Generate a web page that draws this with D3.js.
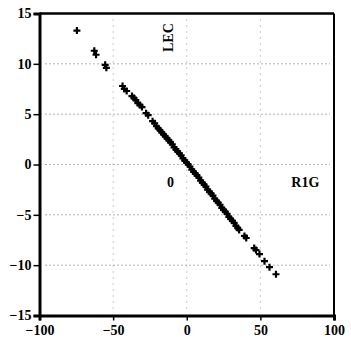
<!DOCTYPE html>
<html>
<head>
<meta charset="utf-8">
<script src="https://cdn.jsdelivr.net/npm/d3@7"></script>
<style>
  body { margin: 0; background: #fff; }
  text { font-family: "Liberation Serif", "DejaVu Serif", serif; font-weight: bold; }
</style>
</head>
<body>
<div id="chart"></div>
<script>
// values
const xTicks = [-100, -50, 0, 50, 100];
const yTicks = [-15, -10, -5, 0, 5, 10, 15];
const xGrid = [-50, 0, 50];
const yGrid = [-10, -5, 0, 5, 10];

const ptX = [-74.6, -62.8, -61.6, -55.4, -54.6, -43.6, -42.4, -40.8, -37.2, -35.8,
  -34.6, -33.2, -31.8, -30.4, -27.6, -26.2, -23.2, -21.8, -20.6, -19.4,
  -18.2, -17.0, -15.8, -14.6, -13.4, -12.2, -11.0, -9.8, -8.6, -7.4,
  -6.2, -5.0, -3.8, -2.6, -1.4, -0.2, 1.0, 2.2, 3.4, 4.6,
  5.8, 7.0, 8.2, 9.4, 10.6, 11.8, 13.0, 14.2, 15.4, 16.6,
  17.8, 19.0, 20.2, 21.4, 22.6, 23.8, 25.0, 26.2, 27.4, 28.6,
  29.8, 31.0, 32.2, 33.4, 34.6, 35.6, 39.2, 40.4, 45.8, 47.0,
  49.4, 52.8, 56.2, 60.6];
const ptY = [13.3, 11.3, 10.9, 9.9, 9.6, 7.8, 7.5, 7.3, 6.8, 6.6,
  6.4, 6.1, 5.9, 5.7, 5.1, 4.9, 4.3, 4.1, 3.8, 3.6,
  3.4, 3.2, 3.0, 2.8, 2.6, 2.4, 2.2, 2.0, 1.7, 1.5,
  1.3, 1.1, 0.9, 0.6, 0.4, 0.2, 0.0, -0.2, -0.5, -0.7,
  -0.9, -1.1, -1.3, -1.6, -1.8, -2.0, -2.2, -2.5, -2.7, -2.9,
  -3.1, -3.4, -3.6, -3.8, -4.0, -4.3, -4.5, -4.7, -4.9, -5.2,
  -5.4, -5.6, -5.8, -6.1, -6.3, -6.5, -7.1, -7.3, -8.3, -8.5,
  -8.9, -9.6, -10.2, -10.9];

const width = 351, height = 346;
const m = {left: 39.5, right: 334, top: 13.5, bottom: 315.5};

const svg = d3.select("#chart").append("svg")
    .attr("width", width)
    .attr("height", height);

const x = d3.scaleLinear().domain([-100, 100]).range([m.left, m.right]);
const y = d3.scaleLinear().domain([-15, 15]).range([m.bottom, m.top]);

// dotted grid
svg.append("g").selectAll("line")
    .data(yGrid).join("line")
    .attr("x1", m.left + 6).attr("x2", m.right - 4)
    .attr("y1", d => y(d)).attr("y2", d => y(d))
    .attr("stroke", "#666").attr("stroke-width", 1)
    .attr("stroke-dasharray", "1,3");

svg.append("g").selectAll("line")
    .data(xGrid).join("line")
    .attr("x1", d => x(d)).attr("x2", d => x(d))
    .attr("y1", m.top + 6).attr("y2", m.bottom - 6)
    .attr("stroke", "#999").attr("stroke-width", 1)
    .attr("stroke-dasharray", "1,5");

// frame top / right
svg.append("line")
    .attr("x1", m.left).attr("x2", m.right).attr("y1", m.top).attr("y2", m.top)
    .attr("stroke", "#000").attr("stroke-width", 2.5);
svg.append("line")
    .attr("x1", m.right).attr("x2", m.right).attr("y1", m.top).attr("y2", m.bottom)
    .attr("stroke", "#000").attr("stroke-width", 2);

// axes
const xAxis = svg.append("g")
    .attr("transform", "translate(0," + m.bottom + ")")
    .call(d3.axisBottom(x).tickValues(xTicks).tickSize(5).tickPadding(3));
const yAxis = svg.append("g")
    .attr("transform", "translate(" + m.left + ",0)")
    .call(d3.axisLeft(y).tickValues(yTicks).tickSize(6).tickPadding(2));

[xAxis, yAxis].forEach(g => {
  g.select(".domain").attr("stroke", "#000").attr("stroke-width", 3);
  g.selectAll(".tick line").attr("stroke", "#000").attr("stroke-width", 1.5);
  g.selectAll(".tick text")
      .style("font-family", "Liberation Serif")
      .style("font-weight", "bold")
      .style("font-size", "14px")
      .attr("fill", "#000");
});
xAxis.selectAll(".tick text").attr("dy", "0.85em");

// points
svg.append("g").selectAll("path")
    .data(ptX.map((v, i) => [v, ptY[i]]))
    .join("path")
    .attr("transform", d => "translate(" + x(d[0]) + "," + y(d[1]) + ")")
    .attr("d", "M-3.5,0H3.5M0,-3.5V3.5")
    .attr("stroke", "#000")
    .attr("stroke-width", 2.2)
    .attr("fill", "none");

// labels
svg.append("text")
    .attr("transform", "translate(" + x(-9.5) + "," + y(12.6) + ") rotate(-90)")
    .attr("text-anchor", "middle")
    .style("font-size", "14px")
    .text("LEC");

svg.append("text")
    .attr("x", x(-11)).attr("y", y(-2.2))
    .attr("text-anchor", "middle")
    .style("font-size", "14px")
    .text("0");

svg.append("text")
    .attr("x", x(80.5)).attr("y", y(-2.2))
    .attr("text-anchor", "middle")
    .style("font-size", "14px")
    .text("R1G");
</script>
</body>
</html>
